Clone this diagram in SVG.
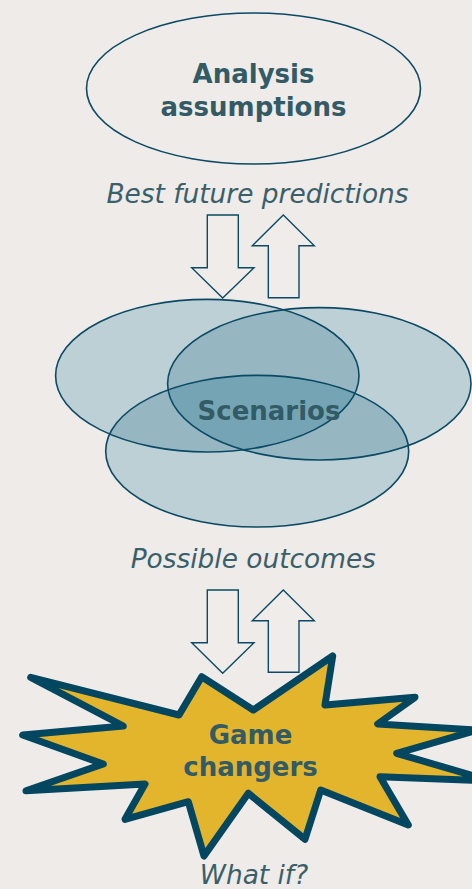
<svg xmlns="http://www.w3.org/2000/svg" width="472" height="889" viewBox="0 0 472 889">
  <style>
    .bg { fill: #EEEBE8; }
    .title { font-family: "DejaVu Sans", Verdana, sans-serif; font-weight: bold; font-size: 26px; fill: #325B66; text-anchor: middle; }
    .note { font-family: "DejaVu Sans", Verdana, sans-serif; font-style: italic; font-size: 26.4px; fill: #3A5F6A; text-anchor: middle; }
    .outline { fill: none; stroke: #0B4A64; stroke-width: 1.6; }
    .arrow { fill: #EFECE9; stroke: #0B4A64; stroke-width: 1.4; stroke-linejoin: miter; }
    .one { fill: #BDD0D6; }
    .two { fill: #96B7C2; }
    .three { fill: #75A5B5; }
  </style>
  <defs>
    <ellipse id="eA" cx="207.3" cy="375.7" rx="151.7" ry="76.3"/>
    <ellipse id="eB" cx="319.3" cy="383.8" rx="151.7" ry="76.2"/>
    <ellipse id="eC" cx="257.2" cy="451.2" rx="151.5" ry="75.8"/>
    <clipPath id="clipA"><use href="#eA"/></clipPath>
    <clipPath id="clipB"><use href="#eB"/></clipPath>
  </defs>

  <rect class="bg" x="0" y="0" width="472" height="889"/>

  <!-- Top node -->
  <g id="analysis-assumptions">
    <ellipse class="outline" cx="253.5" cy="88.5" rx="167" ry="75.5"/>
    <text class="title" x="253.5" y="83">Analysis</text>
    <text class="title" x="253.5" y="116">assumptions</text>
  </g>

  <!-- Scenarios: three overlapping ellipses -->
  <g id="scenarios">
    <use href="#eA" class="one"/>
    <use href="#eB" class="one"/>
    <use href="#eC" class="one"/>
    <g clip-path="url(#clipA)">
      <use href="#eB" class="two"/>
      <use href="#eC" class="two"/>
    </g>
    <g clip-path="url(#clipB)">
      <use href="#eC" class="two"/>
    </g>
    <g clip-path="url(#clipA)">
      <g clip-path="url(#clipB)">
        <use href="#eC" class="three"/>
      </g>
    </g>
    <use href="#eA" class="outline" stroke-width="1.8"/>
    <use href="#eB" class="outline" stroke-width="1.8"/>
    <use href="#eC" class="outline" stroke-width="1.8"/>
    <text class="title" x="269" y="420">Scenarios</text>
  </g>

  <!-- Game changers burst -->
  <g id="game-changers">
    <polygon fill="#E3B52C" stroke="#02465F" stroke-width="7" stroke-linejoin="round"
      points="201.7,676.7 253.3,710 332.7,656 325,705 415,697.3 377.7,724 478,730 396.7,753.3 491,781 380,776.7 408.3,825 320.7,790 305,839.3 248.3,793.3 204,856 188.3,801.7 125,819.3 145,784 26,790.7 103.3,764 22.7,735 123.3,726 30.7,677.3 179,715"/>
    <text class="title" x="250.5" y="744">Game</text>
    <text class="title" x="250.5" y="776">changers</text>
  </g>

  <!-- Block arrows between the levels -->
  <g id="connectors">
    <path class="arrow" d="M207.3,215 H238.3 V267.7 H254 L222.7,298 L191.7,267.7 H207.3 Z"/>
    <path class="arrow" d="M283.3,215 L314.3,245.7 H299 V297.7 H268.3 V245.7 H252.3 Z"/>
    <path class="arrow" d="M207.3,590 H238.3 V642.7 H254 L222.7,673.3 L191.7,642.7 H207.3 Z"/>
    <path class="arrow" d="M283.3,590 L314.3,620.7 H299 V672.3 H268.3 V620.7 H252.3 Z"/>
  </g>

  <!-- Level captions -->
  <g id="captions">
    <text class="note" x="257.5" y="202.5">Best future predictions</text>
    <text class="note" x="253.3" y="568.3">Possible outcomes</text>
    <text class="note" x="254" y="884">What if?</text>
  </g>
</svg>
